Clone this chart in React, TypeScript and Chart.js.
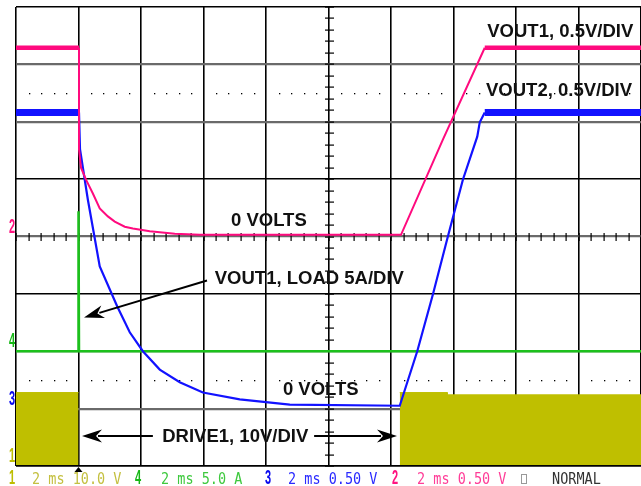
import React, { useEffect, useRef } from "react";
import { Chart, registerables } from "chart.js";

Chart.register(...registerables);

// Horizontal axis: time in divisions (2 ms/div). Vertical axis: screen divisions.
const pinkX = [0, 1.008, 1.008, 1.04, 1.12, 1.23, 1.34, 1.47, 1.58, 1.74, 1.87, 2.14, 2.54, 2.94, 6.16, 6.83, 7.5, 10];
const pinkY = [3.29, 3.29, 1.52, 1.2, 0.99, 0.75, 0.49, 0.35, 0.26, 0.17, 0.14, 0.09, 0.05, 0.03, 0.03, 1.69, 3.29, 3.29];

const blueX = [0, 1.008, 1.024, 1.15, 1.34, 1.62, 1.82, 2.03, 2.3, 2.62, 2.99, 3.58, 4.38, 6.14, 6.42, 6.67, 6.91, 7.15, 7.38, 7.42, 7.5, 10];
const blueY = [2.16, 2.16, 1.52, 0.64, -0.52, -1.22, -1.67, -2.0, -2.32, -2.54, -2.72, -2.84, -2.93, -2.95, -2.0, -1.01, 0, 0.99, 1.74, 1.99, 2.16, 2.16];

const greenX = [0, 1.0, 1.0, 1.008, 10];
const greenY = [-2.0, -2.0, 0.44, -2.0, -2.0];

const yellowX = [0, 1.0, 3.0, 6.14, 6.9, 6.9, 10];
const yellowY: (number | null)[] = [-2.72, -2.72, null, -2.72, -2.72, -2.76, -2.76];

const xTicks = [0, 1, 2, 3, 4, 5, 6, 7, 8, 9, 10];
const yTicks = [-4, -3, -2, -1, 0, 1, 2, 3, 4];
const grayRows = [-3, -2, 0, 2, 3];
const dotRows = [2.5, -2.5];

const labels = ["VOUT1, 0.5V/DIV", "VOUT2, 0.5V/DIV", "0 VOLTS", "VOUT1, LOAD 5A/DIV", "0 VOLTS", "DRIVE1, 10V/DIV"];
const labelX = [7.54, 7.52, 3.44, 3.18, 4.27, 2.34];
const labelY = [3.47, 2.445, 0.18, -0.82, -2.77, -3.585];

// arrows: [fromX, fromY, toX, toY]
const arrows = [
  [3.056, -0.767, 1.088, -1.412],
  [2.19, -3.477, 1.056, -3.477],
  [4.77, -3.477, 6.096, -3.477],
];

const chNames = ["1", "4", "3", "2"];
const chScales = ["2 ms 10.0 V", "2 ms 5.0 A", "2 ms 0.50 V", "2 ms 0.50 V"];
const chColors = ["#bdbd00", "#16b816", "#0a0aee", "#ff1480"];
const chTextColors = ["#c4c040", "#3ec93e", "#2a2aff", "#ff3d98"];
// left-edge ground markers: channel, level (div)
const markerNames = ["2", "4", "3", "1"];
const markerLevels = [0, -2, -3, -4];

const PINK = "#ff0a7e";
const BLUE = "#1212ff";
const GREEN = "#1cc01c";
const YELLOW = "#bfbf00";

const zip = (xs: number[], ys: (number | null)[]) => xs.map((x, i) => ({ x, y: ys[i] }));

function drawArrow(ctx: CanvasRenderingContext2D, x1: number, y1: number, x2: number, y2: number) {
  const ang = Math.atan2(y2 - y1, x2 - x1);
  const head = 20;
  const half = 6.5;
  const bx = x2 - head * Math.cos(ang);
  const by = y2 - head * Math.sin(ang);
  ctx.strokeStyle = "#000";
  ctx.lineWidth = 2;
  ctx.beginPath();
  ctx.moveTo(x1, y1);
  ctx.lineTo(bx + 4 * Math.cos(ang), by + 4 * Math.sin(ang));
  ctx.stroke();
  ctx.fillStyle = "#000";
  ctx.beginPath();
  ctx.moveTo(x2, y2);
  ctx.lineTo(bx - half * Math.sin(ang), by + half * Math.cos(ang));
  ctx.lineTo(bx + 6 * Math.cos(ang), by + 6 * Math.sin(ang));
  ctx.lineTo(bx + half * Math.sin(ang), by - half * Math.cos(ang));
  ctx.closePath();
  ctx.fill();
}

const overlay = {
  id: "scopeOverlay",
  beforeDatasetsDraw(chart: any) {
    const { ctx, scales } = chart;
    const x = scales.x;
    const y = scales.y;
    ctx.save();
    ctx.fillStyle = "#000";
    const cx = Math.round(x.getPixelForValue(5));
    const cy = Math.round(y.getPixelForValue(0));
    for (let i = 0; i <= 50; i++) {
      const px = Math.round(x.getPixelForValue(i / 5));
      ctx.fillRect(px - 0.5, cy - 4, 1.2, 8);
    }
    for (let i = -20; i <= 20; i++) {
      const py = Math.round(y.getPixelForValue(i / 5));
      ctx.fillRect(cx - 4, py - 0.5, 9, 1.2);
    }
    for (const r of dotRows) {
      const py = Math.round(y.getPixelForValue(r));
      for (let i = 0; i <= 50; i++) {
        if (i % 5 === 0) continue;
        const px = Math.round(x.getPixelForValue(i / 5));
        ctx.fillRect(px, py, 1.3, 1.3);
      }
    }
    ctx.restore();
  },
  afterDatasetsDraw(chart: any) {
    const { ctx, scales, chartArea } = chart;
    const x = scales.x;
    const y = scales.y;
    ctx.save();
    // bottom frame line
    ctx.fillStyle = "#000";
    ctx.fillRect(chartArea.left, Math.round(chartArea.bottom) - 1, chartArea.right - chartArea.left, 1.5);

    // annotation text
    ctx.font = 'bold 18.5px "Liberation Sans", Arial, sans-serif';
    ctx.fillStyle = "#111";
    ctx.textBaseline = "alphabetic";
    labels.forEach((t, i) => {
      ctx.fillText(t, x.getPixelForValue(labelX[i]), y.getPixelForValue(labelY[i]));
    });
    arrows.forEach((a) => {
      drawArrow(ctx, x.getPixelForValue(a[0]), y.getPixelForValue(a[1]), x.getPixelForValue(a[2]), y.getPixelForValue(a[3]));
    });

    // left ground markers
    markerNames.forEach((m, i) => {
      const ci = chNames.indexOf(m);
      const py = y.getPixelForValue(markerLevels[i]);
      ctx.save();
      ctx.fillStyle = chColors[ci];
      ctx.translate(chartArea.left - 7, py - 4);
      ctx.scale(0.55, 1);
      ctx.font = 'bold 20px "Liberation Sans", Arial, sans-serif';
      ctx.fillText(m, 0, 0);
      ctx.restore();
    });

    // status bar
    const base = 484;
    const chX = [9, 135, 265, 392];
    const txtX = [32, 161, 288, 417];
    chNames.forEach((c, i) => {
      ctx.save();
      ctx.fillStyle = chColors[i];
      ctx.translate(chX[i], base);
      ctx.scale(0.55, 1);
      ctx.font = 'bold 20px "Liberation Sans", Arial, sans-serif';
      ctx.fillText(c, 0, 0);
      ctx.restore();
      ctx.save();
      ctx.fillStyle = chTextColors[i];
      ctx.translate(txtX[i], base);
      ctx.scale(1, 1.12);
      ctx.font = '13.5px "DejaVu Sans Mono", monospace';
      ctx.fillText(chScales[i], 0, 0);
      ctx.restore();
    });
    ctx.strokeStyle = "#999";
    ctx.lineWidth = 1;
    ctx.strokeRect(521.5, 474.5, 5, 9);
    ctx.save();
    ctx.fillStyle = "#333";
    ctx.translate(552, base);
    ctx.scale(1, 1.12);
    ctx.font = '13.5px "DejaVu Sans Mono", monospace';
    ctx.fillText("NORMAL", 0, 0);
    ctx.restore();
    // trigger position marker
    const tx = x.getPixelForValue(1.0);
    ctx.fillStyle = "#000";
    ctx.beginPath();
    ctx.moveTo(tx - 4, 472);
    ctx.lineTo(tx + 4, 472);
    ctx.lineTo(tx, 467);
    ctx.closePath();
    ctx.fill();
    ctx.restore();
  },
};

export default function App() {
  const ref = useRef<HTMLCanvasElement | null>(null);
  useEffect(() => {
    if (!ref.current) return;
    const flatAbove = (lvl: number, w1: number, w2: number) => (c: any) =>
      c.p0.parsed.y > lvl && c.p0.parsed.y === c.p1.parsed.y ? w1 : w2;
    const chart = new Chart(ref.current, {
      type: "line",
      data: {
        datasets: [
          {
            data: zip(pinkX, pinkY),
            borderColor: PINK,
            borderWidth: 2,
            pointRadius: 0,
            segment: { borderWidth: flatAbove(3, 4.5, 2) },
          } as any,
          {
            data: zip(blueX, blueY),
            borderColor: BLUE,
            borderWidth: 2.2,
            pointRadius: 0,
            segment: { borderWidth: flatAbove(2.05, 7, 2.2) },
          },
          {
            data: zip(greenX, greenY),
            borderColor: GREEN,
            borderWidth: 2.5,
            pointRadius: 0,
          },
          {
            data: zip(yellowX, yellowY),
            borderColor: YELLOW,
            backgroundColor: YELLOW,
            borderWidth: 1,
            pointRadius: 0,
            fill: "start",
            spanGaps: false,
          },
        ],
      },
      options: {
        animation: false,
        responsive: false,
        devicePixelRatio: 1,
        layout: { padding: { left: 16, top: 7, right: 0, bottom: 20 } },
        plugins: { legend: { display: false }, tooltip: { enabled: false } },
        scales: {
          x: {
            type: "linear",
            min: 0,
            max: 10,
            afterBuildTicks: (s: any) => {
              s.ticks = xTicks.map((v) => ({ value: v }));
            },
            ticks: { display: false },
            border: { display: false },
            grid: { color: "#000", lineWidth: 1.6, drawTicks: false },
          },
          y: {
            type: "linear",
            min: -4,
            max: 4,
            afterBuildTicks: (s: any) => {
              s.ticks = yTicks.map((v) => ({ value: v }));
            },
            ticks: { display: false },
            border: { display: false },
            grid: {
              drawTicks: false,
              color: (c: any) => (grayRows.includes(c.tick?.value) ? "#6a6a6a" : "#000"),
              lineWidth: (c: any) => (grayRows.includes(c.tick?.value) ? 2.2 : 1.6),
            },
          },
        },
      },
      plugins: [overlay],
    } as any);
    return () => chart.destroy();
  }, []);
  return (
    <div style={{ position: "absolute", left: 0, top: 0, width: 641, height: 486, background: "#fff" }}>
      <canvas ref={ref} width={641} height={486} style={{ display: "block" }} />
    </div>
  );
}
